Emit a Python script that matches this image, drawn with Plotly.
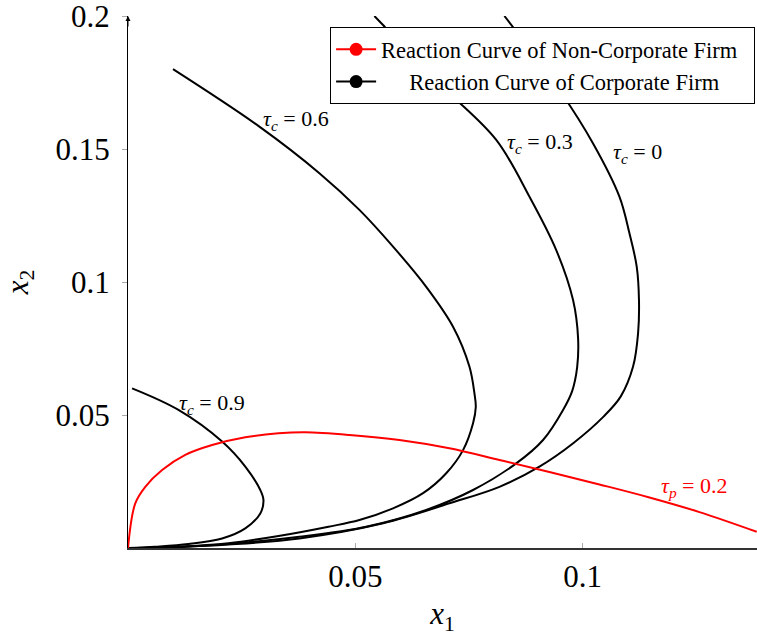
import plotly.graph_objects as go

# ---------------- data ----------------
# Reaction curve of the non-corporate firm, tau_p = 0.2
np_x1 = [0.0, 0.0016, 0.0038, 0.0075, 0.0126, 0.0185, 0.0258, 0.0331, 0.0390,
         0.0487, 0.0597, 0.0707, 0.0817, 0.0927, 0.1037, 0.1147, 0.1257, 0.1383]
np_x2 = [0.0, 0.0168, 0.0230, 0.0293, 0.0350, 0.0387, 0.0416, 0.0431, 0.0435,
         0.0425, 0.0406, 0.0375, 0.0331, 0.0286, 0.0239, 0.0190, 0.0135, 0.0061]

# Reaction curves of the corporate firm
c00_x1 = [0.0828, 0.0949, 0.1023, 0.1081, 0.1103, 0.1119, 0.1124, 0.1122, 0.1111,
          0.1084, 0.1046, 0.0980, 0.0905, 0.0817, 0.0707, 0.0561, 0.0377,
          0.0221, 0.0111, 0.0]
c00_x2 = [0.2000, 0.1722, 0.1521, 0.1321, 0.1183, 0.1058, 0.0932, 0.0807, 0.0682,
          0.0570, 0.0494, 0.0395, 0.0306, 0.0230, 0.0168, 0.0093, 0.0036,
          0.0013, 0.0004, 0.0]

c03_x1 = [0.0542, 0.0561, 0.0696, 0.0810, 0.0883, 0.0942, 0.0979, 0.0990, 0.0988,
          0.0977, 0.0957, 0.0913, 0.0854, 0.0759, 0.0656, 0.0524, 0.0377, 0.0221,
          0.0111, 0.0]
c03_x2 = [0.2000, 0.1966, 0.1728, 0.1534, 0.1321, 0.1120, 0.0932, 0.0790, 0.0680,
          0.0590, 0.0519, 0.0406, 0.0318, 0.0218, 0.0143, 0.0080, 0.0042, 0.0015,
          0.0004, 0.0]

c06_x1 = [0.0099, 0.0289, 0.0421, 0.0509, 0.0583, 0.0656, 0.0715, 0.0751, 0.0762,
          0.0765, 0.0759, 0.0737, 0.0700, 0.0649, 0.0583, 0.0509, 0.0441, 0.0331,
          0.0221, 0.0111, 0.0]
c06_x2 = [0.1800, 0.1584, 0.1409, 0.1271, 0.1133, 0.0982, 0.0832, 0.0682, 0.0582,
          0.0530, 0.0469, 0.0368, 0.0281, 0.0206, 0.0149, 0.0105, 0.0080, 0.0045,
          0.0018, 0.0005, 0.0]

c09_x1 = [0.0009, 0.0111, 0.0207, 0.0258, 0.0291, 0.0298, 0.0291, 0.0258, 0.0207,
          0.0133, 0.0060, 0.0]
c09_x2 = [0.0600, 0.0519, 0.0400, 0.0306, 0.0218, 0.0180, 0.0130, 0.0074, 0.0036,
          0.0015, 0.0005, 0.0]

x_tickvals = [0.05, 0.1]
x_ticktext = ["0.05", "0.1"]
y_tickvals = [0.05, 0.1, 0.15, 0.2]
y_ticktext = ["0.05", "0.1", "0.15", "0.2"]

legend_names = ["Reaction Curve of Non-Corporate Firm\u00a0\u00a0",
                "\u00a0\u00a0\u00a0\u00a0\u00a0Reaction Curve of Corporate Firm"]

# ---------------- figure ----------------
FONT = "Liberation Serif, DejaVu Serif, serif"
fig = go.Figure()

for xs, ys in [(c00_x1, c00_x2), (c03_x1, c03_x2), (c06_x1, c06_x2), (c09_x1, c09_x2)]:
    fig.add_trace(go.Scatter(x=xs, y=ys, mode="lines", showlegend=False,
                             line=dict(color="black", width=2, shape="spline", smoothing=1.0),
                             hoverinfo="skip"))
fig.add_trace(go.Scatter(x=np_x1, y=np_x2, mode="lines", showlegend=False,
                         line=dict(color="#ff0000", width=2, shape="spline", smoothing=1.0),
                         hoverinfo="skip"))

# legend entries
fig.add_trace(go.Scatter(x=[None], y=[None], mode="lines+markers", name=legend_names[0],
                         line=dict(color="#ff0000", width=2),
                         marker=dict(color="#ff0000", size=13)))
fig.add_trace(go.Scatter(x=[None], y=[None], mode="lines+markers", name=legend_names[1],
                         line=dict(color="black", width=2),
                         marker=dict(color="black", size=13)))

XMAX = 0.13836
fig.update_layout(
    width=757, height=636,
    margin=dict(l=128, r=0, t=16, b=88, autoexpand=False),
    paper_bgcolor="white", plot_bgcolor="white",
    font=dict(family=FONT, color="black"),
    showlegend=True,
    legend=dict(x=0.997, y=0.979, xanchor="right", yanchor="top",
                bgcolor="white", bordercolor="black", borderwidth=1,
                font=dict(family=FONT, size=22.5, color="black"),
                tracegroupgap=0, itemwidth=40),
    xaxis=dict(range=[0, XMAX], showgrid=False, zeroline=False,
               showline=True, linecolor="#333333", linewidth=1.5,
               tickvals=x_tickvals, ticktext=x_ticktext,
               ticks="inside", ticklen=5, tickcolor="#aaaaaa", tickwidth=1,
               tickfont=dict(family=FONT, size=31),
               ticklabelstandoff=0, ticklabeloverflow="allow",
               title=dict(text="<i>x</i><sub>1</sub>", font=dict(family=FONT, size=31), standoff=13)),
    yaxis=dict(range=[0, 0.2], showgrid=False, zeroline=False,
               showline=True, linecolor="black", linewidth=1,
               tickvals=y_tickvals, ticktext=y_ticktext,
               ticks="outside", ticklen=5, tickcolor="#aaaaaa", tickwidth=1,
               tickfont=dict(family=FONT, size=31),
               ticklabelstandoff=6, ticklabeloverflow="allow",
               title=dict(text="<i>x</i><sub>2</sub>", font=dict(family=FONT, size=31), standoff=18)),
    xaxis2=dict(range=[0, XMAX], overlaying="x", anchor="y", side="bottom",
                showgrid=False, zeroline=False, showline=False,
                tickvals=x_tickvals, showticklabels=False,
                ticks="outside", ticklen=5, tickcolor="#aaaaaa", tickwidth=1),
    yaxis2=dict(range=[0, 0.2], overlaying="y", anchor="x", side="left",
                showgrid=False, zeroline=False, showline=False,
                tickvals=y_tickvals, showticklabels=False,
                ticks="inside", ticklen=5, tickcolor="#aaaaaa", tickwidth=1),
)

# y-axis arrow head
fig.add_annotation(x=0, y=0.2, xref="x", yref="y", ax=0, ay=12, axref="pixel", ayref="pixel",
                   showarrow=True, arrowhead=2, arrowsize=1, arrowwidth=1, arrowcolor="black", text="")

# curve labels
labels = [
    ("<i>τ</i><sub><i>c</i></sub> = 0.6", 0.0369, 0.1609, "black"),
    ("<i>τ</i><sub><i>c</i></sub> = 0.3", 0.0907, 0.1523, "black"),
    ("<i>τ</i><sub><i>c</i></sub> = 0", 0.1121, 0.1485, "black"),
    ("<i>τ</i><sub><i>c</i></sub> = 0.9", 0.0184, 0.0541, "black"),
    ("<i>τ</i><sub><i>p</i></sub> = 0.2", 0.1247, 0.0229, "#ff0000"),
]
for txt, lx, ly, col in labels:
    fig.add_annotation(x=lx, y=ly, xref="x", yref="y", text=txt, showarrow=False,
                       font=dict(family=FONT, size=22, color=col), bgcolor="rgba(0,0,0,0)")

fig.write_html("out.html", config={"displayModeBar": False},
               post_script="document.body.style.margin='0px';")
